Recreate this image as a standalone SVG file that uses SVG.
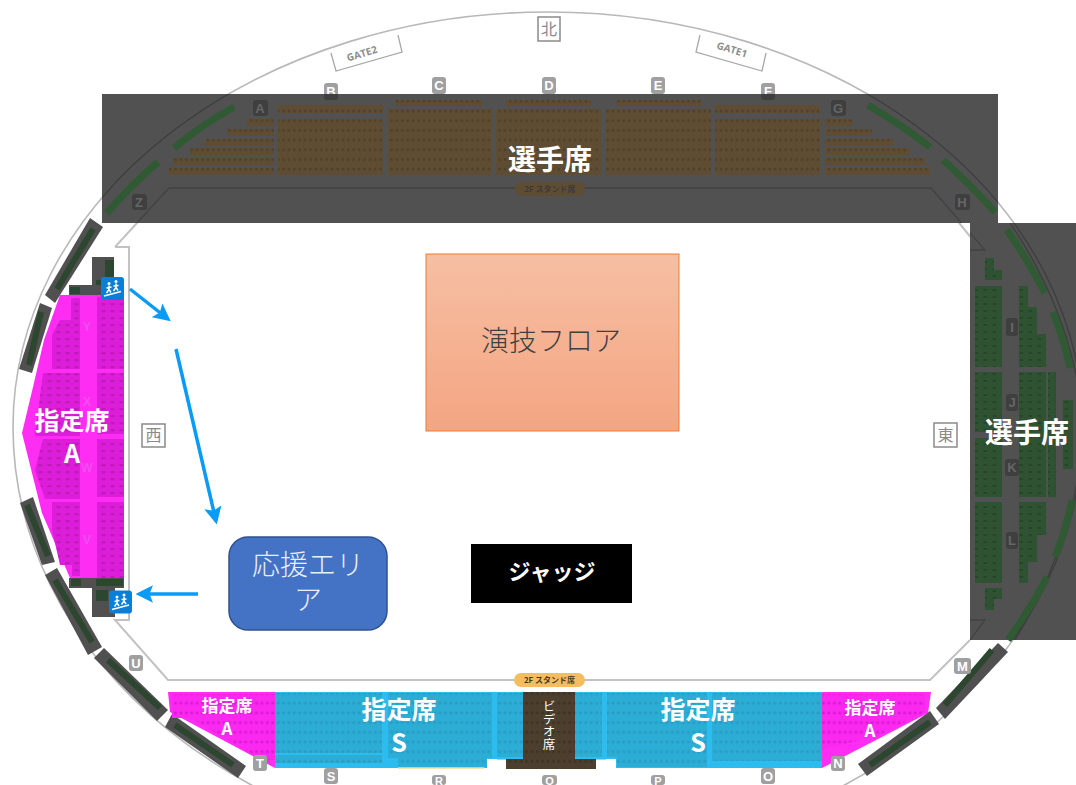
<svg xmlns="http://www.w3.org/2000/svg" width="1076" height="785" viewBox="0 0 1076 785">
<style>
text{font-family:"Noto Sans CJK JP","Liberation Sans",sans-serif;text-anchor:middle}
.bowl{fill:none;stroke:#b8b8b8;stroke-width:1.6}
.bowld{fill:none;stroke:#3e3e3e;stroke-width:1.3}
.floorline{fill:none;stroke:#c2c2c2;stroke-width:2}
.floorlined{fill:none;stroke:#424242;stroke-width:1.3}
.ov{fill:#515151}
.br{fill:url(#pb)}
.gr{fill:url(#pg)}
.mg{fill:url(#pm)}
.bl{fill:url(#ps)}
.strip{fill:none;stroke:#2f5a33;stroke-width:7}
.seg{fill:#505050}
.segs{fill:none;stroke:#2c4630;stroke-width:6}
.bd{fill:#a0a0a0}
.bdt{fill:#fff;font-size:13px;font-weight:700;font-family:"Liberation Sans",sans-serif}
.dbd{fill:#3f3f3f}
.dbdt{fill:#666;font-size:13px;font-weight:700;font-family:"Liberation Sans",sans-serif}
.box{fill:#fff;stroke:#8a8a8a;stroke-width:1.5}
.boxt{fill:#8a8a8a;font-size:16px}
.big{fill:#fff;font-weight:700}
.gate{fill:#fff;stroke:#a8a8a8;stroke-width:1.3}
.gatet{fill:#8d8d8d;font-size:10px;font-weight:700;font-family:"Open Sans",sans-serif}
.flow{fill:none;stroke:#0a9bf6;stroke-width:3.5;marker-end:url(#ah)}
.fig{fill:none;stroke:#fff;stroke-width:1.5}
.mlbl{fill:#f04cf0;font-size:12px;font-weight:700;font-family:"Liberation Sans",sans-serif}
</style>
<defs>
<pattern id="pb" width="5.4" height="9.7" patternUnits="userSpaceOnUse"><rect width="5.4" height="9.7" fill="#5f4d33"/><rect x="1.5" y="3" width="2.4" height="2.6" fill="#504029"/></pattern>
<pattern id="pg" width="9" height="7" patternUnits="userSpaceOnUse"><rect width="9" height="7" fill="#2f5233"/><rect x="2.5" y="2" width="3.5" height="2" fill="#28452b"/></pattern>
<pattern id="pm" width="9" height="7" patternUnits="userSpaceOnUse"><rect width="9" height="7" fill="#dc1edb"/><rect x="2.5" y="2" width="4" height="2.4" fill="#c01ab8"/></pattern>
<pattern id="ps" width="5.4" height="9.7" patternUnits="userSpaceOnUse"><rect width="5.4" height="9.7" fill="#2cadd6"/><rect x="1.3" y="3.5" width="2.8" height="2.6" fill="#289cc2"/></pattern>
<pattern id="pbm" width="5.4" height="9.7" patternUnits="userSpaceOnUse"><rect width="5.4" height="9.7" fill="#fb28ef"/><rect x="1.3" y="3.5" width="2.8" height="2.6" fill="#d91ad6"/></pattern>
<pattern id="pv" width="5.4" height="9.7" patternUnits="userSpaceOnUse"><rect width="5.4" height="9.7" fill="#4c3f2d"/><rect x="1.3" y="3.5" width="2.8" height="2.6" fill="#3e3324"/></pattern>
<linearGradient id="fl" x1="0" y1="0" x2="0" y2="1"><stop offset="0" stop-color="#f6bfa3"/><stop offset="1" stop-color="#f4a582"/></linearGradient>
<marker id="ah" markerWidth="5" markerHeight="5" refX="4" refY="2.500" orient="auto" markerUnits="strokeWidth"><path d="M0,0L5,2.500L0,5L1,2.500Z" fill="#0a9bf6"/></marker>
<clipPath id="ovc"><path d="M102,94H998V223H1076V640H970V223H102Z"/></clipPath>
<symbol id="stair" viewBox="0 0 23 23" overflow="visible">
<rect width="23" height="23" rx="3" fill="#0a7fd8"/>
<path class="fig" d="M3,19L20,14.500"/>
<circle cx="8" cy="6.500" r="1.500" fill="#fff"/><circle cx="15" cy="4.500" r="1.500" fill="#fff"/>
<path class="fig" d="M8,8.500V12.500L5.500,16M8,12.500L10,15.500M5.500,11L10.500,10M15,6.500V10.500L12.500,14M15,10.500L17,13.500M12.500,9L17.500,8.500"/>
</symbol>
</defs>

<g id="stadium-lines">
<path class="bowl" d="M13,427A535,415 0 0 1 1083,427A535,430 0 0 1 13,427Z"/>
<path class="floorline" d="M169,188H931L985,255M115,247H129V620H115L168,680H930L970,640M115,247L169,188"/>
</g>
<g id="badge-B"><rect class="bd" x="324" y="83" width="14" height="17" rx="3"/><text class="bdt" x="331" y="96">B</text></g>
<g id="badge-F"><rect class="bd" x="761" y="83" width="14" height="17" rx="3"/><text class="bdt" x="768" y="96">F</text></g>

<g id="overlays">
<rect class="ov" x="102" y="94" width="896" height="129"/>
<rect class="ov" x="970" y="223" width="106" height="417"/>
</g>
<g id="overlay-lines" clip-path="url(#ovc)">
<path class="bowld" d="M13,427A535,415 0 0 1 1083,427A535,430 0 0 1 13,427Z"/>
<path class="bowld" d="M1010,223Q1076,320 1084,430Q1076,540 1015,640"/>
<path class="floorlined" d="M115,247L169,188H931L985,250H970M970,620H985L970,640"/>
<rect class="dbd" x="324" y="83" width="14" height="17" rx="3"/><rect class="dbd" x="761" y="83" width="14" height="17" rx="3"/>
</g>

<g id="north-seats">
<rect class="br" x="247" y="119" width="27" height="7"/><rect class="br" x="227" y="129" width="47" height="7"/><rect class="br" x="205" y="139" width="69" height="7"/><rect class="br" x="190" y="148" width="84" height="7"/><rect class="br" x="173" y="158" width="101" height="7"/><rect class="br" x="169" y="168" width="105" height="7"/>
<rect class="br" x="278" y="105" width="105" height="8"/><rect class="br" x="278" y="119" width="105" height="56"/>
<rect class="br" x="396" y="100" width="86" height="6"/><rect class="br" x="388" y="109" width="104" height="66"/>
<rect class="br" x="506" y="100" width="85" height="6"/><rect class="br" x="496" y="109" width="105" height="66"/>
<rect class="br" x="617" y="100" width="84" height="6"/><rect class="br" x="606" y="109" width="105" height="66"/>
<rect class="br" x="715" y="105" width="105" height="8"/><rect class="br" x="715" y="119" width="105" height="56"/>
<rect class="br" x="825" y="119" width="27" height="7"/><rect class="br" x="825" y="129" width="47" height="7"/><rect class="br" x="825" y="139" width="68" height="7"/><rect class="br" x="825" y="148" width="84" height="7"/><rect class="br" x="825" y="158" width="100" height="7"/><rect class="br" x="825" y="168" width="105" height="7"/>
<path class="strip" d="M234,107Q200,126 174,148M158,162Q130,186 107,213M868,105Q900,124 930,147M943,160Q970,184 995,212"/>
</g>
<g id="east-seats">
<g class="gr">
<rect x="985" y="258" width="9" height="22"/><rect x="994" y="270" width="8" height="10"/>
<rect x="975" y="286" width="27" height="81"/><rect x="975" y="372" width="27" height="60"/><rect x="975" y="438" width="27" height="59"/><rect x="975" y="502" width="27" height="81"/>
<rect x="985" y="588" width="9" height="22"/><rect x="994" y="588" width="8" height="11"/>
<rect x="1019" y="286" width="9" height="81"/><rect x="1028" y="307" width="9" height="60"/><rect x="1037" y="334" width="9" height="33"/>
<rect x="1019" y="372" width="27" height="125"/><rect x="1048" y="372" width="8" height="125"/>
<rect x="1019" y="502" width="27" height="33"/><rect x="1019" y="535" width="18" height="27"/><rect x="1019" y="562" width="9" height="21"/>
<rect x="1063" y="400" width="10" height="69"/>
</g>
<path class="strip" d="M1007,230Q1028,260 1045,293M1053,312Q1064,340 1070,368M1072,500Q1066,530 1055,557M1047,577Q1030,610 1008,640"/>
</g>

<g id="west-seats">
<rect class="seg" x="92" y="257" width="22" height="28"/><rect class="seg" x="69" y="285" width="55" height="10"/>
<rect class="seg" x="69" y="578" width="55" height="10"/><rect class="seg" x="92" y="588" width="23" height="29"/>
<rect x="105" y="260" width="9" height="20" fill="#2c4630"/><rect x="96" y="280" width="9" height="5" fill="#2c4630"/><rect x="70" y="287" width="10" height="7" fill="#2c4630"/><rect x="96" y="579" width="27" height="7" fill="#2c4630"/><rect x="71" y="579" width="10" height="7" fill="#2c4630"/><rect x="96" y="590" width="12" height="11" fill="#2c4630"/>
<path fill="#ff2cf3" d="M60,295H124V578H70L42,513L22,433L33,387L44,340Z"/>
<g class="mg">
<path d="M71,298H80V369H52V335L60,320H71Z"/><rect x="97" y="297" width="27" height="72"/>
<path d="M43,373H80V436H35Z"/><rect x="97" y="373" width="27" height="61"/>
<path d="M43,439H80V499H45L35,470Z"/><rect x="97" y="439" width="27" height="58"/>
<path d="M52,502H80V576H72V565H60L52,530Z"/><rect x="97" y="502" width="27" height="76"/>
</g>
<text class="mlbl" x="87" y="331">Y</text><text class="mlbl" x="87" y="406">X</text><text class="mlbl" x="87" y="472">W</text><text class="mlbl" x="87" y="544">V</text>
</g>

<g id="upper-deck">
<path class="seg" d="M90,218L103,227L55,303L45,295Z"/><path class="seg" d="M40,303L52,308L32,373L19,369Z"/><path class="seg" d="M20,503L33,497L55,562L42,565Z"/><path class="seg" d="M57,568L45,575L88,655L102,647Z"/><path class="seg" d="M104,648L94,658L157,721L168,710Z"/><path class="seg" d="M172,714L165,727L238,778L246,766Z"/><path class="seg" d="M998,643L1008,652L945,719L936,708Z"/><path class="seg" d="M930,711L939,724L867,776L858,764Z"/>
<path class="segs" d="M93,229L57,289M41,312L29,365M27,505L48,556M55,580L92,642M108,660L160,708M175,725L233,765M992,650L945,705M930,722L870,765"/>
</g>

<g id="south-seats">
<path fill="#2cbcf0" d="M275,692H822V768H616V759H487V768H275Z"/>
<rect class="bl" x="275" y="693" width="107" height="60"/><rect class="bl" x="275" y="755" width="107" height="8"/>
<rect class="bl" x="388" y="693" width="104" height="65"/><rect class="bl" x="398" y="758" width="89" height="9"/>
<rect class="bl" x="497" y="693" width="105" height="64"/><rect class="bl" x="607" y="693" width="100" height="64"/><rect class="bl" x="617" y="757" width="90" height="10"/><rect class="bl" x="712" y="693" width="110" height="68"/>
<rect x="398" y="767" width="86" height="1.500" fill="#f2c56c"/>
<rect x="497" y="759" width="9" height="1" fill="#f2c56c"/><rect x="596" y="759" width="10" height="1" fill="#f2c56c"/>
<path fill="#ff2cf3" d="M168,692H275V768L170,712Z"/>
<path fill="#ff2cf3" d="M822,692H931L928,713L822,768Z"/>
<path fill="url(#pbm)" d="M172,694H275V760H262L190,718H172Z"/>
<path fill="url(#pbm)" d="M822,694H925V712L880,735L822,750Z"/>
<path fill="url(#pv)" d="M523,692H575V759H596V769H506V759H523Z"/>
</g>

<g id="floor"><rect x="426" y="254" width="253" height="177" fill="url(#fl)" stroke="#ed7d31"/><text x="551" y="351" fill="#404040" font-size="28" font-weight="300">演技フロア</text></g>
<g id="support"><rect x="229" y="537" width="158" height="93" rx="19" fill="#4472c4" stroke="#2f528f" stroke-width="1.500"/><text x="308" y="575" fill="#e8eefa" font-size="28" font-weight="300">応援エリ</text><text x="308" y="610" fill="#e8eefa" font-size="28" font-weight="300">ア</text></g>
<g id="judge"><rect x="471" y="544" width="161" height="59" fill="#000"/><text x="552" y="580" class="big" font-size="22">ジャッジ</text></g>

<g id="connectors">
<path class="flow" d="M130,289L168,319"/>
<path class="flow" d="M176,349L216,521"/>
<path class="flow" d="M198,594H139"/>
</g>

<g id="gate2"><path class="gate" d="M331,53L336,71L402,52L398,35"/><text class="gatet" transform="translate(363,57) rotate(-17)">GATE2</text></g>
<g id="gate1"><path class="gate" d="M700,35L696,52L762,71L766,53"/><text class="gatet" transform="translate(731,53) rotate(17)">GATE1</text></g>
<g id="dir-n"><rect class="box" x="538" y="17" width="22" height="24"/><text class="boxt" x="549" y="35">北</text></g>
<g id="dir-w"><rect class="box" x="142" y="424" width="23" height="23"/><text class="boxt" x="153.500" y="441">西</text></g>
<g id="dir-e"><rect class="box" x="934" y="423" width="23" height="24"/><text class="boxt" x="945.500" y="441">東</text></g>

<g id="stairs-n"><use href="#stair" x="101" y="277" width="23" height="23"/></g>
<g id="stairs-s"><use href="#stair" x="109" y="590" width="23" height="24"/></g>

<g id="badges">
<rect class="bd" x="432" y="77" width="14" height="17" rx="3"/><text class="bdt" x="439" y="90">C</text>
<rect class="bd" x="542" y="77" width="14" height="17" rx="3"/><text class="bdt" x="549" y="90">D</text>
<rect class="bd" x="651" y="77" width="14" height="17" rx="3"/><text class="bdt" x="658" y="90">E</text>
<rect class="dbd" x="253" y="100" width="15" height="16" rx="3"/><text class="dbdt" x="260" y="113">A</text>
<rect class="dbd" x="831" y="100" width="15" height="16" rx="3"/><text class="dbdt" x="838" y="113">G</text>
<rect class="dbd" x="132" y="194" width="15" height="16" rx="3"/><text class="dbdt" x="139" y="207">Z</text>
<rect class="dbd" x="955" y="194" width="15" height="16" rx="3"/><text class="dbdt" x="962" y="207">H</text>
<rect class="dbd" x="1006" y="318" width="12" height="18" rx="3"/><text class="dbdt" x="1012" y="332">I</text>
<rect class="dbd" x="1006" y="394" width="12" height="17" rx="3"/><text class="dbdt" x="1012" y="407">J</text>
<rect class="dbd" x="1005" y="459" width="14" height="17" rx="3"/><text class="dbdt" x="1012" y="472">K</text>
<rect class="dbd" x="1006" y="532" width="12" height="17" rx="3"/><text class="dbdt" x="1012" y="545">L</text>
<rect class="bd" x="129" y="655" width="14" height="16" rx="3"/><text class="bdt" x="136" y="668">U</text>
<rect class="bd" x="253" y="755" width="14" height="16" rx="3"/><text class="bdt" x="260" y="768">T</text>
<rect class="bd" x="324" y="768" width="14" height="16" rx="3"/><text class="bdt" x="331" y="781">S</text>
<rect class="bd" x="432" y="775" width="14" height="10" rx="3"/><text class="bdt" x="439" y="785" style="font-size:11px">R</text>
<rect class="bd" x="542" y="775" width="15" height="10" rx="3"/><text class="bdt" x="549.500" y="785" style="font-size:11px">Q</text>
<rect class="bd" x="651" y="775" width="14" height="10" rx="3"/><text class="bdt" x="658" y="785" style="font-size:11px">P</text>
<rect class="bd" x="761" y="768" width="14" height="16" rx="3"/><text class="bdt" x="768" y="781">O</text>
<rect class="bd" x="831" y="756" width="14" height="15" rx="3"/><text class="bdt" x="838" y="768">N</text>
<rect class="bd" x="954" y="658" width="17" height="16" rx="3"/><text class="bdt" x="962.500" y="671">M</text>
</g>

<g id="stand-n"><rect x="515" y="182" width="70" height="14" rx="7" fill="#5f4d33"/><text x="550" y="192" fill="#3a3a3a" font-size="8" font-weight="700">2F スタンド席</text></g>
<g id="stand-s"><rect x="514" y="673" width="71" height="14" rx="7" fill="#f5bd5f"/><text x="549.500" y="683" fill="#4a3a1e" font-size="8" font-weight="700">2F スタンド席</text></g>

<g id="labels">
<text class="big" x="550" y="170" font-size="28">選手席</text>
<text class="big" x="1027" y="443" font-size="28">選手席</text>
<text class="big" x="72" y="430" font-size="25">指定席</text>
<text class="big" x="72" y="463" font-size="25">A</text>
<text class="big" x="399" y="719" font-size="25">指定席</text>
<text class="big" x="399" y="752" font-size="25">S</text>
<text class="big" x="698" y="719" font-size="25">指定席</text>
<text class="big" x="698" y="752" font-size="25">S</text>
<text class="big" x="227" y="712" font-size="17">指定席</text>
<text class="big" x="227" y="735" font-size="17">A</text>
<text class="big" x="870" y="714" font-size="17">指定席</text>
<text class="big" x="870" y="737" font-size="17">A</text>
<text x="549" y="725" fill="#fff" font-size="12.500" style="writing-mode:vertical-rl">ビデオ席</text>
</g>
</svg>
